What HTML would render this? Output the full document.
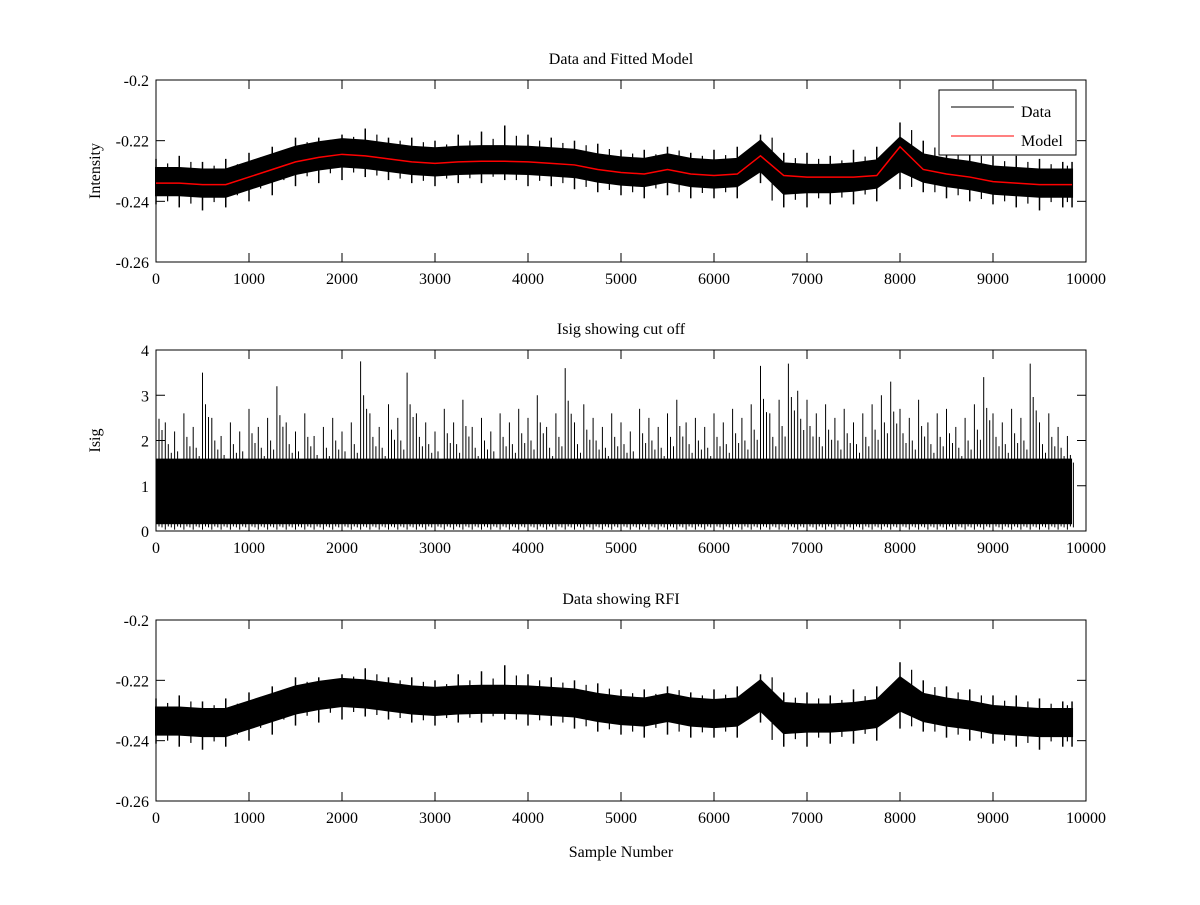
<!DOCTYPE html>
<html><head><meta charset="utf-8"><style>
body{margin:0;background:#fff;}
svg text{font-family:"Liberation Serif",serif;font-size:16px;fill:#000;}
</style></head><body>
<svg id="chart" width="1200" height="900" xmlns="http://www.w3.org/2000/svg"></svg>
<script>
const sampleX=[0,250,500,750,1000,1250,1500,1750,2000,2250,2500,2750,3000,3250,3500,3750,4000,4250,4500,4750,5000,5250,5500,5750,6000,6250,6500,6750,7000,7250,7500,7750,8000,8250,8500,8750,9000,9250,9500,9750,9850];
const modelVals=[-0.234,-0.234,-0.2345,-0.2345,-0.232,-0.2295,-0.227,-0.2255,-0.2245,-0.225,-0.226,-0.227,-0.2275,-0.227,-0.2268,-0.2268,-0.227,-0.2275,-0.228,-0.2295,-0.2305,-0.231,-0.2295,-0.231,-0.2315,-0.231,-0.225,-0.2315,-0.232,-0.232,-0.232,-0.2315,-0.222,-0.2295,-0.231,-0.232,-0.2335,-0.234,-0.2345,-0.2345,-0.2345];
const coreUpper=[-0.229,-0.229,-0.2295,-0.2295,-0.227,-0.2245,-0.222,-0.2205,-0.2195,-0.220,-0.221,-0.222,-0.2225,-0.222,-0.2218,-0.2218,-0.222,-0.2225,-0.223,-0.2245,-0.2255,-0.226,-0.2245,-0.226,-0.2265,-0.226,-0.220,-0.2275,-0.228,-0.228,-0.2275,-0.2265,-0.219,-0.2245,-0.226,-0.227,-0.2285,-0.229,-0.2295,-0.2295,-0.2295];
const coreLower=[-0.238,-0.238,-0.2385,-0.2385,-0.236,-0.2335,-0.231,-0.2295,-0.2285,-0.229,-0.230,-0.231,-0.2315,-0.231,-0.2308,-0.2308,-0.231,-0.2315,-0.232,-0.2335,-0.2345,-0.235,-0.2335,-0.235,-0.2355,-0.235,-0.230,-0.2375,-0.237,-0.237,-0.2365,-0.2355,-0.230,-0.2335,-0.235,-0.236,-0.2375,-0.238,-0.2385,-0.2385,-0.2385];
const dataUpper=[-0.226,-0.225,-0.227,-0.226,-0.224,-0.222,-0.219,-0.219,-0.218,-0.216,-0.219,-0.219,-0.220,-0.218,-0.217,-0.215,-0.218,-0.219,-0.220,-0.221,-0.223,-0.223,-0.222,-0.224,-0.223,-0.222,-0.218,-0.224,-0.224,-0.225,-0.223,-0.222,-0.214,-0.220,-0.222,-0.223,-0.225,-0.225,-0.226,-0.227,-0.227];
const dataLower=[-0.241,-0.242,-0.243,-0.242,-0.240,-0.238,-0.235,-0.234,-0.233,-0.232,-0.233,-0.234,-0.235,-0.234,-0.234,-0.233,-0.235,-0.235,-0.236,-0.237,-0.238,-0.239,-0.238,-0.239,-0.239,-0.239,-0.234,-0.242,-0.242,-0.241,-0.241,-0.240,-0.236,-0.237,-0.239,-0.240,-0.241,-0.242,-0.243,-0.242,-0.242];
const isigPeaks=[3.1,2.4,2.2,2.6,2.3,3.5,2.5,2.1,2.4,2.2,2.7,2.3,2.5,3.2,2.4,2.2,2.6,2.1,2.3,2.5,2.2,2.4,3.75,2.6,2.3,2.8,2.5,3.5,2.6,2.4,2.2,2.7,2.4,2.9,2.3,2.5,2.2,2.6,2.4,2.7,2.5,3.0,2.3,2.6,3.6,2.4,2.8,2.5,2.3,2.6,2.4,2.2,2.7,2.5,2.3,2.6,2.9,2.4,2.5,2.3,2.6,2.4,2.7,2.5,2.8,3.65,2.6,2.9,3.7,3.1,2.9,2.6,2.8,2.5,2.7,2.4,2.6,2.8,3.0,3.3,2.7,2.5,2.9,2.4,2.6,2.7,2.3,2.5,2.8,3.4,2.6,2.4,2.7,2.5,3.7,2.4,2.6,2.3,2.1];
const isigBandLow=0.15, isigBandHigh=1.6;
const xTicks=[0,1000,2000,3000,4000,5000,6000,7000,8000,9000,10000];
const intTicks=[-0.2,-0.22,-0.24,-0.26];
const intTickLabels=["-0.2","-0.22","-0.24","-0.26"];
const isigTicks=[0,1,2,3,4];

const svg=document.getElementById('chart');
const NS='http://www.w3.org/2000/svg';
function mk(tag,attrs,parent){const e=document.createElementNS(NS,tag);for(const k in attrs)e.setAttribute(k,attrs[k]);(parent||svg).appendChild(e);return e;}
const X0=156,X1=1086;
const xs=v=>X0+(v/10000)*(X1-X0);

function axesFrame(top,bot,yscale,yTicks,yLabels,title,ylabel,name){
  const g=mk('g',{});
  
  
  mk('rect',{x:X0,y:top,width:X1-X0,height:bot-top,fill:'#fff',stroke:'#000','stroke-width':1},g);
  xTicks.forEach(t=>{const x=xs(t);
    mk('line',{x1:x,x2:x,y1:bot,y2:bot-9,stroke:'#000'},g);
    mk('line',{x1:x,x2:x,y1:top,y2:top+9,stroke:'#000'},g);
    const tx=mk('text',{x:x,y:bot+22,'text-anchor':'middle'},g);tx.textContent=t;
    
    
  });
  yTicks.forEach((t,i)=>{const y=yscale(t);
    mk('line',{x1:X0,x2:X0+9,y1:y,y2:y,stroke:'#000'},g);
    mk('line',{x1:X1,x2:X1-9,y1:y,y2:y,stroke:'#000'},g);
    const tx=mk('text',{x:X0-7,y:y+6,'text-anchor':'end'},g);tx.textContent=yLabels[i];
    
    
  });
  const tt=mk('text',{x:(X0+X1)/2,y:top-16,'text-anchor':'middle'},g);tt.textContent=title;
  
  
  if(ylabel){const yc=(top+bot)/2;const yl=mk('text',{x:0,y:0,'text-anchor':'middle',transform:`translate(100,${yc}) rotate(-90)`},g);yl.textContent=ylabel;
    
    }
  return g;
}
function band(yscale,name){
  const g=mk('g',{});
  
  
  let d='M'+sampleX.map((v,i)=>xs(v)+','+yscale(coreUpper[i])).join('L');
  for(let i=sampleX.length-1;i>=0;i--)d+='L'+xs(sampleX[i])+','+yscale(coreLower[i]);
  mk('path',{d:d+'Z',fill:'#000',stroke:'#000','stroke-width':2},g);
  sampleX.forEach((v,i)=>{
    const x=xs(v);
    mk('line',{x1:x,x2:x,y1:yscale(dataUpper[i]),y2:yscale(dataLower[i]),stroke:'#000','stroke-width':1.5},g);
    if(i<sampleX.length-1){
      const xm=(x+xs(sampleX[i+1]))/2;
      mk('line',{x1:xm,x2:xm,y1:yscale((dataUpper[i]+coreUpper[i])/2),y2:yscale((dataLower[i+1]+coreLower[i+1])/2),stroke:'#000','stroke-width':1.2},g);
    }
  });
}
// Panel 1
const y1=v=>80+(-0.2-v)/0.06*182;
axesFrame(80,262,y1,intTicks,intTickLabels,'Data and Fitted Model','Intensity','panel-data-model');
band(y1,'data-series');
const ml=mk('polyline',{points:sampleX.map((v,i)=>xs(v)+','+y1(modelVals[i])).join(' '),fill:'none',stroke:'#f00','stroke-width':1.5});


const lg=mk('g',{});


mk('rect',{x:939,y:90,width:137,height:65,fill:'#fff',stroke:'#000'},lg);
mk('line',{x1:951,x2:1014,y1:107,y2:107,stroke:'#000'},lg);
mk('line',{x1:951,x2:1014,y1:136,y2:136,stroke:'#f00'},lg);
let t=mk('text',{x:1021,y:117},lg);t.textContent='Data';
t=mk('text',{x:1021,y:146},lg);t.textContent='Model';
// Panel 2
const y2=v=>531-v*(181/4);
axesFrame(350,531,y2,isigTicks,isigTicks.map(String),'Isig showing cut off','Isig','panel-isig');
const ig=mk('g',{});


mk('rect',{x:xs(0),y:y2(isigBandHigh),width:xs(9850)-xs(0),height:y2(isigBandLow)-y2(isigBandHigh),fill:'#000'},ig);
isigPeaks.forEach((p,i)=>{const x=xs(i*100);
  mk('line',{x1:x,x2:x,y1:y2(0.03),y2:y2(p),stroke:'#000','stroke-width':1},ig);
  mk('line',{x1:x+3,x2:x+3,y1:y2(0.1),y2:y2(p*0.8),stroke:'#000','stroke-width':1},ig);
  mk('line',{x1:x+6,x2:x+6,y1:y2(0.08),y2:y2(p*0.72),stroke:'#000','stroke-width':1},ig);
});
// Panel 3
const y3=v=>620+(-0.2-v)/0.06*181;
axesFrame(620,801,y3,intTicks,intTickLabels,'Data showing RFI',null,'panel-rfi');
band(y3,'rfi-data-series');
const xl=mk('text',{x:(X0+X1)/2,y:857,'text-anchor':'middle'});xl.textContent='Sample Number';


</script>
</body></html>
